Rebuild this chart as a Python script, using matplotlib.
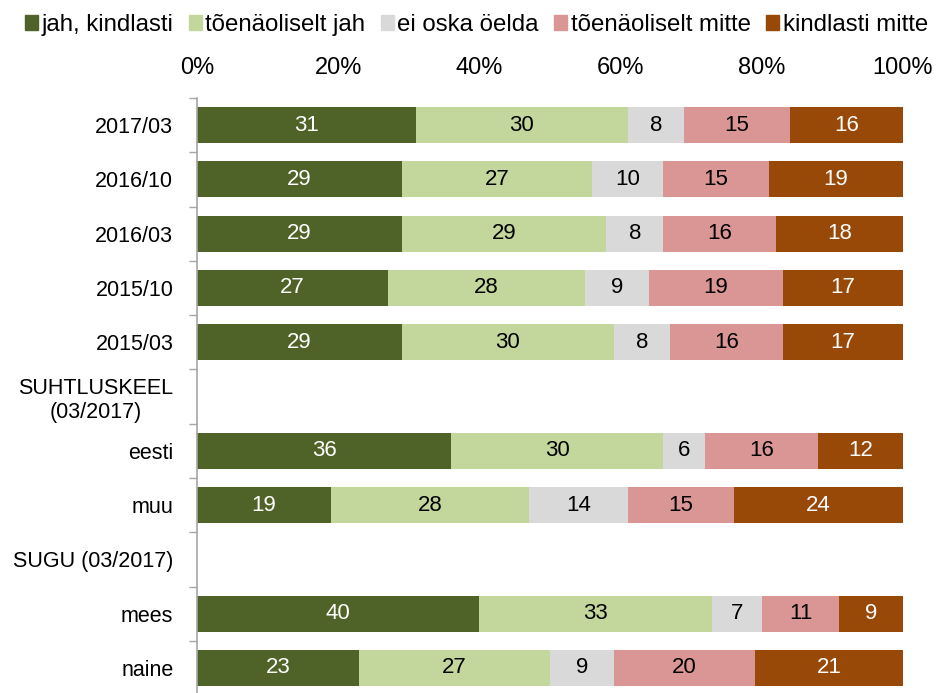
import numpy as np
import matplotlib
matplotlib.use("Agg")
import matplotlib.pyplot as plt
from matplotlib.patches import Patch

plt.rcParams['font.family'] = ['Liberation Sans', 'DejaVu Sans']

# categories, top to bottom (empty values = group header rows)
categories = ["2017/03", "2016/10", "2016/03", "2015/10", "2015/03",
              "SUHTLUSKEEL\n(03/2017)", "eesti", "muu",
              "SUGU (03/2017)", "mees", "naine"]
series = ["jah, kindlasti", "tõenäoliselt jah", "ei oska öelda",
          "tõenäoliselt mitte", "kindlasti mitte"]

jah_kindlasti = [31, 29, 29, 27, 29, 0, 36, 19, 0, 40, 23]
toen_jah      = [30, 27, 29, 28, 30, 0, 30, 28, 0, 33, 27]
ei_oska       = [8, 10, 8, 9, 8, 0, 6, 14, 0, 7, 9]
toen_mitte    = [15, 15, 16, 19, 16, 0, 16, 15, 0, 11, 20]
kindl_mitte   = [16, 19, 18, 17, 17, 0, 12, 24, 0, 9, 21]

colors = ["#4F6228", "#C3D69B", "#D9D9D9", "#D99694", "#984807"]
text_colors = ["white", "black", "black", "black", "white"]

fig = plt.figure(figsize=(9.37, 6.93), dpi=100)
ax = fig.add_axes([0.2102, -0.003, 0.7535, 0.8616])

y = np.arange(len(categories))
left = np.zeros(len(categories))
for vals, name, c, tc in zip([jah_kindlasti, toen_jah, ei_oska, toen_mitte, kindl_mitte],
                             series, colors, text_colors):
    vals = np.array(vals, dtype=float)
    bars = ax.barh(y, vals, left=left, height=0.66, color=c, label=name)
    labels = [str(int(v)) if v > 0 else "" for v in vals]
    ax.bar_label(bars, labels=labels, label_type="center", color=tc, fontsize=16)
    left += vals

ax.set_xlim(0, 100)
ax.set_ylim(len(categories) - 0.5, -0.5)
ax.xaxis.tick_top()
ax.set_xticks([0, 20, 40, 60, 80, 100])
ax.set_xticklabels(["0%", "20%", "40%", "60%", "80%", "100%"])
ax.tick_params(axis="x", length=0, pad=14, labelsize=17)

ax.set_yticks(y)
ax.set_yticklabels(categories)
ax.set_yticks(np.arange(len(categories) + 1) - 0.5, minor=True)
ax.tick_params(axis="y", which="major", length=0, pad=17, labelsize=15.5)
ax.tick_params(axis="y", which="minor", length=6, color="#A6A6A6", width=1)
for lab in ax.get_yticklabels():
    lab.set_multialignment("center")

for s in ["top", "right", "bottom"]:
    ax.spines[s].set_visible(False)
ax.spines["left"].set_color("#A6A6A6")
ax.spines["left"].set_linewidth(1.2)

handles = [Patch(color=c, label=s) for c, s in zip(colors, series)]
fig.legend(handles=handles, loc="upper left", bbox_to_anchor=(0.009, 1.004), ncol=5,
           frameon=False, fontsize=17.3, handlelength=0.54, handleheight=0.54,
           handletextpad=0.13, columnspacing=0.66, borderaxespad=0.3)

fig.savefig("out.png", dpi=100)
